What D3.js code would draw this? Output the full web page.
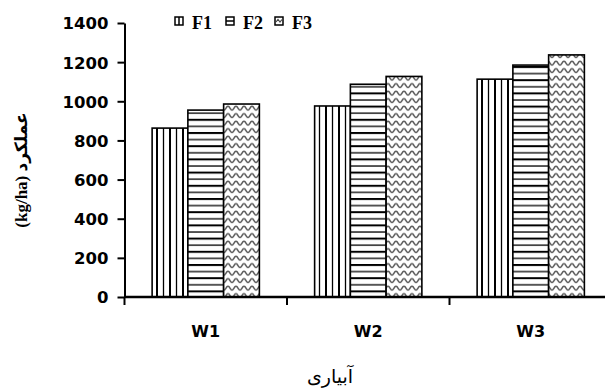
<!DOCTYPE html>
<html><head><meta charset="utf-8">
<script src="https://cdn.jsdelivr.net/npm/d3@7"></script>
<style>body{margin:0;background:#fff}svg{display:block}</style>
</head><body>
<svg id="c" width="605" height="391"></svg>
<script>
const categories = ["W1", "W2", "W3"];
const seriesNames = ["F1", "F2", "F3"];
const F1 = [863, 976, 1113];
const F2 = [955, 1087, 1185];
const F3 = [986, 1127, 1237];
const yTicks = [0, 200, 400, 600, 800, 1000, 1200, 1400];
const yTitle = "(kg/ha) عملکرد";
const xTitle = "آبیاری";

(function(){
const seriesValues = {F1, F2, F3};
const svg = d3.select("#c");
const defs = svg.append("defs");

// patterns
const pv = defs.append("pattern").attr("id","pF1").attr("patternUnits","userSpaceOnUse")
  .attr("width",13).attr("height",10);
pv.append("rect").attr("width",13).attr("height",10).attr("fill","#fff");
pv.append("line").attr("x1",1).attr("x2",1).attr("y1",0).attr("y2",10).attr("stroke","#000").attr("stroke-width",2);
pv.append("line").attr("x1",7.5).attr("x2",7.5).attr("y1",0).attr("y2",10).attr("stroke","#000").attr("stroke-width",1.3);

const ph = defs.append("pattern").attr("id","pF2").attr("patternUnits","userSpaceOnUse")
  .attr("width",10).attr("height",13.2);
ph.append("rect").attr("width",10).attr("height",13.2).attr("fill","#fff");
ph.append("line").attr("y1",1).attr("y2",1).attr("x1",0).attr("x2",10).attr("stroke","#000").attr("stroke-width",2);
ph.append("line").attr("y1",7.6).attr("y2",7.6).attr("x1",0).attr("x2",10).attr("stroke","#000").attr("stroke-width",1.3);

const pw = defs.append("pattern").attr("id","pF3").attr("patternUnits","userSpaceOnUse")
  .attr("width",8).attr("height",7.5);
pw.append("rect").attr("width",8).attr("height",7.5).attr("fill","#fff");
pw.append("path").attr("d","M0,5 C2,5 2,1.2 4,1.2 C6,1.2 6,5 8,5")
  .attr("fill","none").attr("stroke","#555").attr("stroke-width",1.5);

const pLeft = 124.5, pRight = 612, pTop = 23, pBottom = 297;
const y = d3.scaleLinear().domain([0, 1400]).range([pBottom, pTop]);
const x0 = d3.scaleBand().domain(categories).range([pLeft, pRight]).paddingInner(0.34).paddingOuter(0.17);
const x1 = d3.scaleBand().domain(seriesNames).range([0, x0.bandwidth()]);

// bars
const g = svg.append("g");
categories.forEach((c, i) => {
  seriesNames.forEach(s => {
    const v = seriesValues[s][i];
    g.append("rect")
      .attr("x", x0(c) + x1(s))
      .attr("y", y(v))
      .attr("width", x1.bandwidth())
      .attr("height", y(0) - y(v))
      .attr("fill", `url(#p${s})`)
      .attr("stroke", "#000").attr("stroke-width", 1.6);
  });
});

// y axis
const yAxis = svg.append("g").attr("transform", `translate(${pLeft},0)`)
  .call(d3.axisLeft(y).tickValues(yTicks).tickFormat(d3.format("d")).tickSize(7).tickPadding(9).tickSizeOuter(0));
yAxis.select(".domain").attr("stroke","#000").attr("stroke-width",2);
yAxis.selectAll(".tick line").attr("stroke","#000").attr("stroke-width",2);
yAxis.selectAll(".tick text").attr("font-family","DejaVu Sans").attr("font-weight","bold")
  .attr("font-size",16.5).attr("fill","#000").attr("dy","0.36em");

// x axis
svg.append("line").attr("x1", pLeft).attr("x2", 605).attr("y1", pBottom).attr("y2", pBottom)
  .attr("stroke","#000").attr("stroke-width",2.4);
const step = x0.step();
categories.forEach((c, i) => {
  const bx = x0(c) - x0.paddingOuter() * step;
  svg.append("line").attr("x1", bx).attr("x2", bx).attr("y1", pBottom).attr("y2", pBottom + 8)
    .attr("stroke","#000").attr("stroke-width",2);
  svg.append("text").attr("x", x0(c) + x0.bandwidth()/2).attr("y", 337)
    .attr("text-anchor","middle").attr("font-family","DejaVu Sans").attr("font-weight","bold")
    .attr("font-size",16).text(c);
});

// titles
svg.append("text").attr("transform","translate(27,170) rotate(-90)")
  .attr("text-anchor","middle").attr("direction","ltr")
  .attr("font-family","Liberation Serif, DejaVu Sans").attr("font-weight","bold").attr("font-size",17)
  .text(yTitle);
svg.append("text").attr("x", 330).attr("y", 383).attr("text-anchor","middle")
  .attr("font-family","Liberation Serif, DejaVu Sans").attr("font-size",19).text(xTitle);

// legend
const legX = [175, 226, 275];
seriesNames.forEach((s, i) => {
  const lx = legX[i], ly = 17;
  svg.append("rect").attr("x", lx).attr("y", ly).attr("width", 8).attr("height", 8)
    .attr("fill","#fff").attr("stroke","#000").attr("stroke-width",1.5);
  if (s === "F1") svg.append("line").attr("x1",lx+4).attr("x2",lx+4).attr("y1",ly).attr("y2",ly+8).attr("stroke","#000").attr("stroke-width",1.5);
  if (s === "F2") svg.append("line").attr("x1",lx).attr("x2",lx+8).attr("y1",ly+4).attr("y2",ly+4).attr("stroke","#000").attr("stroke-width",1.5);
  if (s === "F3") svg.append("path").attr("d",`M${lx+1},${ly+5} L${lx+3},${ly+2.5} L${lx+5},${ly+5} L${lx+7},${ly+2.5}`)
    .attr("fill","none").attr("stroke","#444").attr("stroke-width",1.2);
  svg.append("text").attr("x", lx + 17).attr("y", 29).attr("font-family","Liberation Serif")
    .attr("font-weight","bold").attr("font-size",18).text(s);
});
})();
</script>
</body></html>
